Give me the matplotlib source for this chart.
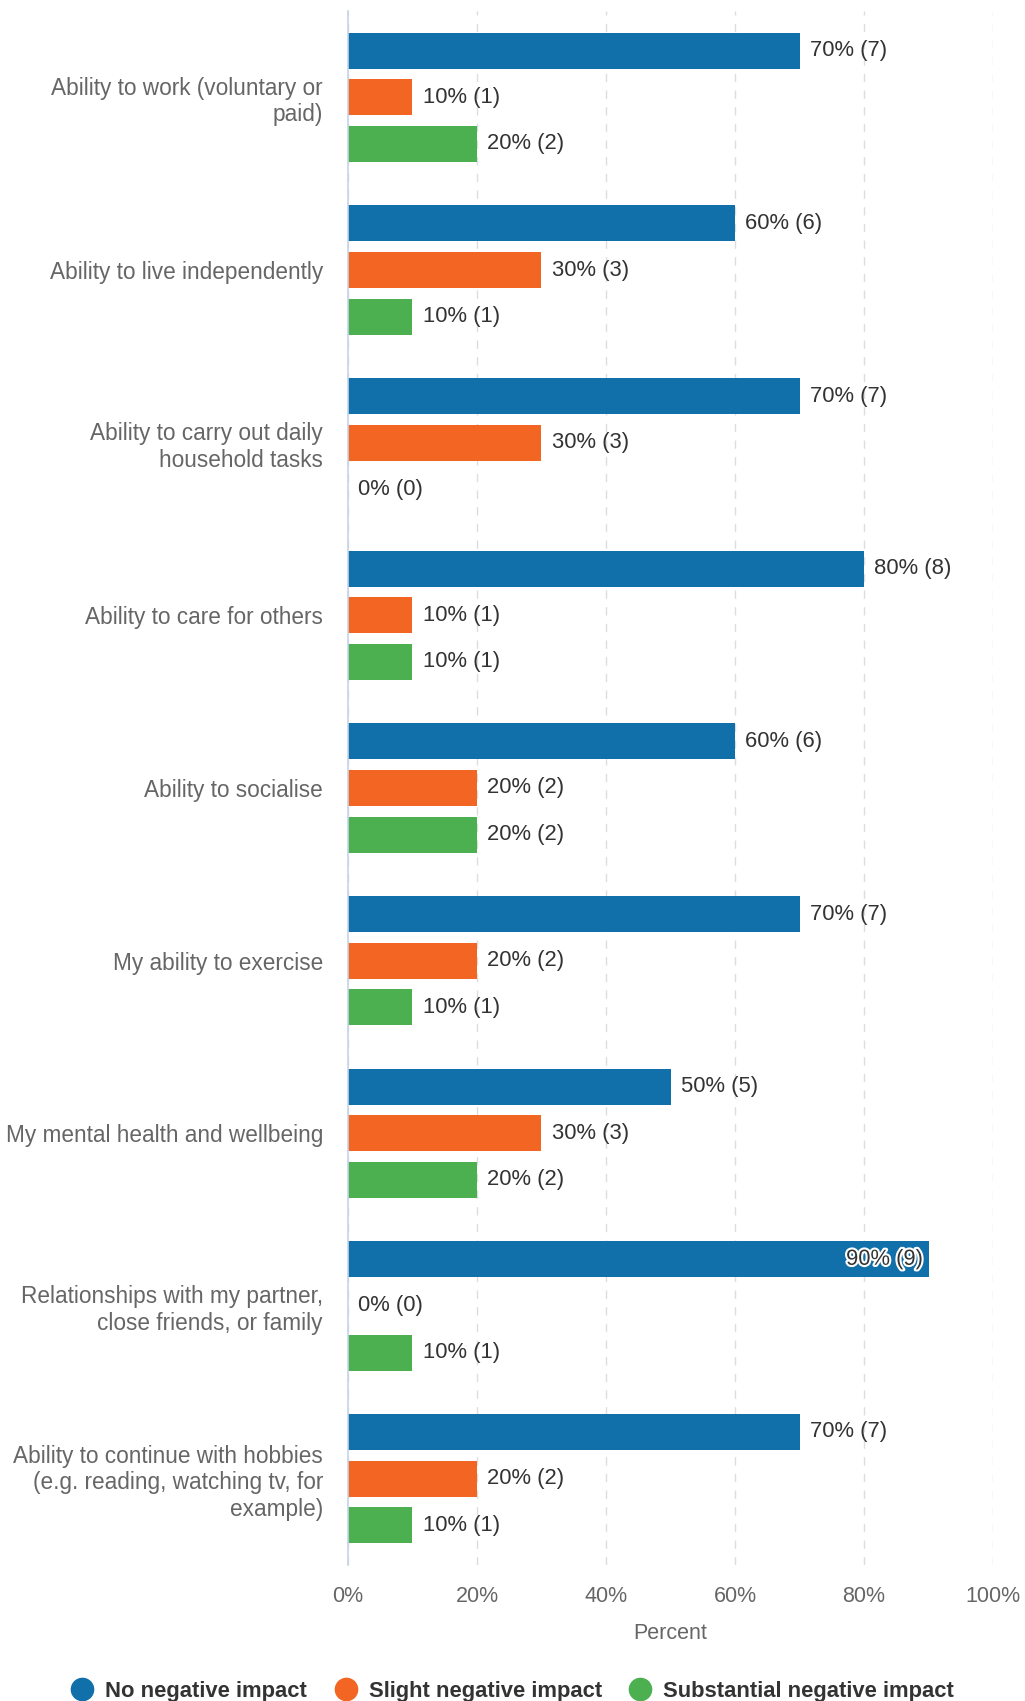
import numpy as np
import matplotlib.pyplot as plt
import matplotlib.patheffects as pe
from matplotlib.lines import Line2D

plt.rcParams['font.family'] = ['Liberation Sans', 'DejaVu Sans']

# Datos del gráfico
categorias = [
    'Ability to work (voluntary or\npaid)',
    'Ability to live independently',
    'Ability to carry out daily\nhousehold tasks',
    'Ability to care for others',
    'Ability to socialise',
    'My ability to exercise',
    'My mental health and wellbeing',
    'Relationships with my partner,\nclose friends, or family',
    'Ability to continue with hobbies\n(e.g. reading, watching tv, for\nexample)',
]
series = ['No negative impact', 'Slight negative impact', 'Substantial negative impact']
sin_impacto = [70, 60, 70, 80, 60, 70, 50, 90, 70]
leve = [10, 30, 30, 10, 20, 20, 30, 0, 20]
sustancial = [20, 10, 0, 10, 20, 10, 20, 10, 10]
conteo_sin = [7, 6, 7, 8, 6, 7, 5, 9, 7]
conteo_leve = [1, 3, 3, 1, 2, 2, 3, 0, 2]
conteo_sust = [2, 1, 0, 1, 2, 1, 2, 1, 1]
ticks_x = [0, 20, 40, 60, 80, 100]

COLORES = ['#1170aa', '#f26522', '#4caf50']
GRIS_TEXTO = '#666666'
GRIS_VALOR = '#333333'

fig = plt.figure(figsize=(10.25, 17.01), dpi=100)
ax = fig.add_axes([0.3395, 0.080, 0.6293, 0.9135])

n = len(categorias)
y = np.arange(n)
alto = 0.208
desp = 0.27

valores = [sin_impacto, leve, sustancial]
conteos = [conteo_sin, conteo_leve, conteo_sust]
for k in range(3):
    pos = y + (k - 1) * desp
    ax.barh(pos, valores[k], height=alto, color=COLORES[k], zorder=3)
    for yi, v, c in zip(pos, valores[k], conteos[k]):
        etiqueta = f'{v}% ({c})'
        if v >= 90:
            ax.annotate(etiqueta, (v, yi), xytext=(-4, 0), textcoords='offset points',
                        ha='right', va='center', fontsize=15.8, color=GRIS_VALOR, zorder=4,
                        path_effects=[pe.withStroke(linewidth=3, foreground='white')])
        else:
            ax.annotate(etiqueta, (v, yi), xytext=(7.5, 0),
                        textcoords='offset points', ha='left', va='center',
                        fontsize=15.8, color=GRIS_VALOR, zorder=4)

ax.set_ylim(n - 0.5, -0.5)
ax.set_xlim(0, 100)
ax.set_yticks(y)
ax.set_yticklabels(categorias, fontsize=16.3, color=GRIS_TEXTO, linespacing=1.2)
ax.set_xticks(ticks_x)
ax.set_xticklabels([f'{t}%' for t in ticks_x], fontsize=15.5, color=GRIS_TEXTO)
ax.tick_params(axis='y', length=0, pad=18)
ax.tick_params(axis='x', length=0, pad=15)
ax.set_xlabel('Percent', fontsize=15.5, color=GRIS_TEXTO, labelpad=12)

for s in ['top', 'right', 'bottom']:
    ax.spines[s].set_visible(False)
ax.spines['left'].set_color('#c5d3ea')
ax.spines['left'].set_linewidth(1.2)
ax.spines['left'].set_zorder(5)

ax.grid(axis='x', color='#dddddd', linestyle=(0, (6, 6)), linewidth=1, zorder=0)
ax.grid(axis='y', visible=False)

manijas = [Line2D([0], [0], marker='o', linestyle='', markersize=16,
                  markerfacecolor=c, markeredgecolor=c) for c in COLORES]
fig.legend(manijas, series, loc='lower center', bbox_to_anchor=(0.495, -0.012),
           ncol=3, frameon=False, handletextpad=0.05, columnspacing=0.75,
           prop={'size': 15.8, 'weight': 'bold'}, labelcolor='#333333')

fig.savefig('out.png', dpi=100)
plt.close()
